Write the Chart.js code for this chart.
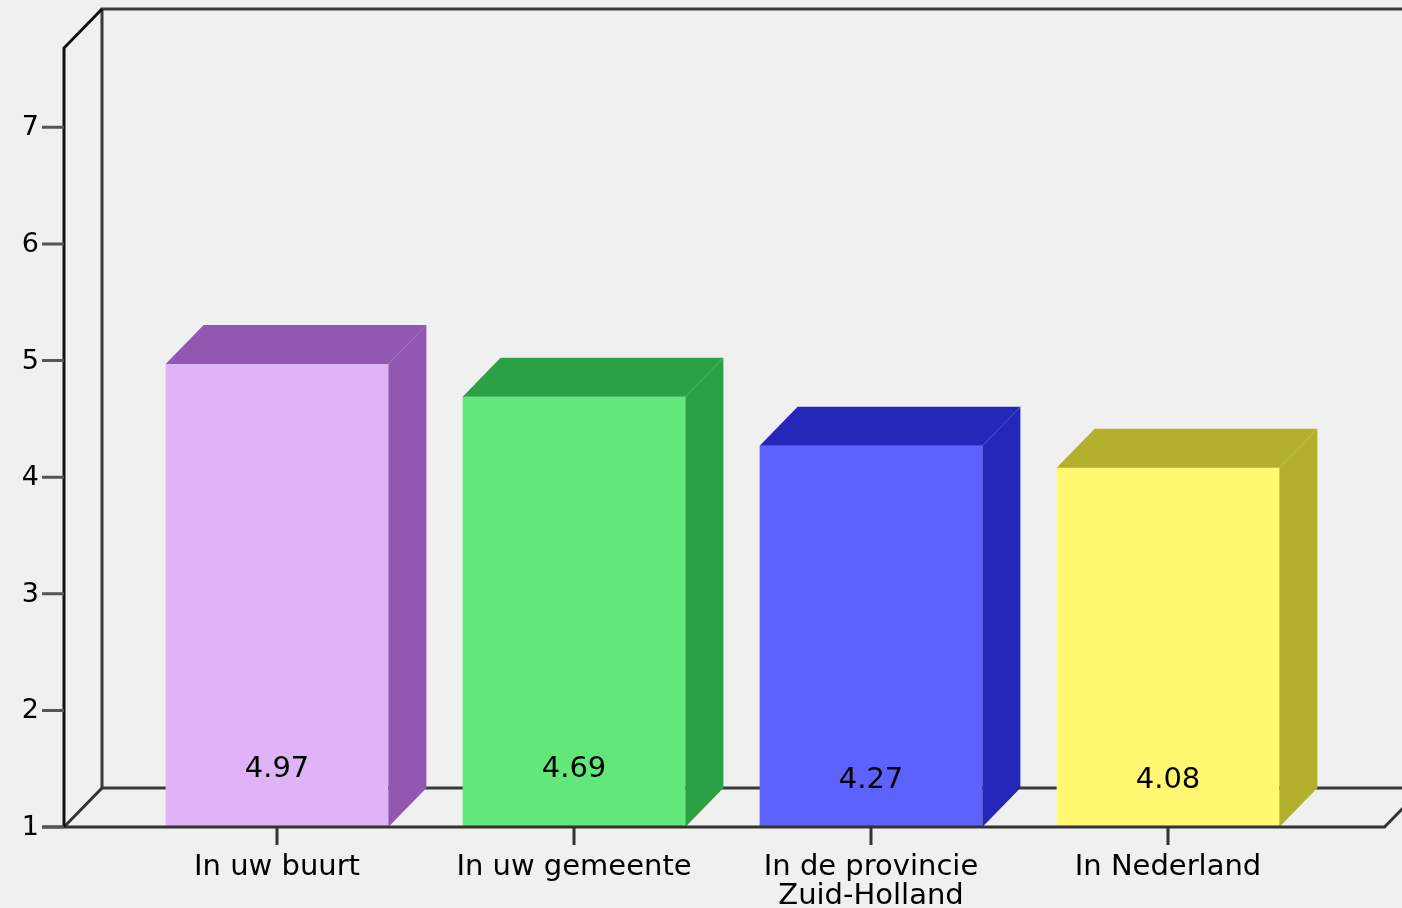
<!DOCTYPE html>
<html>
<head>
<meta charset="utf-8">
<script src="https://cdn.jsdelivr.net/npm/chart.js@4/dist/chart.umd.min.js"></script>
<style>
  body { margin: 0; background: #f0f0f0; }
  #wrap { width: 1402px; height: 908px; }
</style>
</head>
<body>
<div id="wrap"><canvas id="grafiek" width="1402" height="908"></canvas></div>
<script>
// ---- data ----
const categorieen = ["In uw buurt", "In uw gemeente", ["In de provincie", "Zuid-Holland"], "In Nederland"];
const waarden = [4.97, 4.69, 4.27, 4.08];
const yTicks = [1, 2, 3, 4, 5, 6, 7];

// front / dark (side + top) colours per bar
const kleurVoor = ["#deb4f6", "#62e87a", "#5d62ff", "#fff870"];
const kleurZij = ["#9157b1", "#2ba044", "#2426ba", "#b4b02d"];

const DX = 38, DY = -39; // 3d depth
const FONT = "'DejaVu Sans', sans-serif";

// frame, 3d faces, ticks and labels
const kader3d = {
  id: "kader3d",
  beforeDatasetsDraw(chart) {
    const { ctx, chartArea: a } = chart;
    const yb = chart.scales.y.getPixelForValue(1);
    const x0 = 64; // front axis x
    ctx.save();
    ctx.strokeStyle = "#3a3a3a";
    ctx.lineWidth = 3;
    ctx.beginPath();
    // back vertical + top line
    ctx.moveTo(x0 + DX, yb + DY);
    ctx.lineTo(x0 + DX, a.top + DY);
    ctx.lineTo(1402, a.top + DY);
    // back floor line
    ctx.moveTo(x0 + DX, yb + DY);
    ctx.lineTo(1402, yb + DY);
    ctx.stroke();
    ctx.restore();
  },
  afterDatasetsDraw(chart) {
    const { ctx, chartArea: a } = chart;
    const y = chart.scales.y;
    const x = chart.scales.x;
    const yb = y.getPixelForValue(1);
    const x0 = 64;
    const rechts = a.right + 68;
    const meta = chart.getDatasetMeta(0);

    // 3d faces
    meta.data.forEach((bar, i) => {
      const l = bar.x - bar.width / 2, r = bar.x + bar.width / 2, t = bar.y, b = yb;
      ctx.fillStyle = kleurZij[i];
      ctx.beginPath();
      ctx.moveTo(l, t);
      ctx.lineTo(r, t);
      ctx.lineTo(r + DX, t + DY);
      ctx.lineTo(l + DX, t + DY);
      ctx.closePath();
      ctx.fill();
      ctx.beginPath();
      ctx.moveTo(r, t);
      ctx.lineTo(r + DX, t + DY);
      ctx.lineTo(r + DX, b + DY);
      ctx.lineTo(r, b);
      ctx.closePath();
      ctx.fill();
    });

    ctx.save();
    ctx.strokeStyle = "#333";
    ctx.lineWidth = 3;
    ctx.beginPath();
    // front floor line + diagonals
    ctx.moveTo(x0 - 22, yb);
    ctx.lineTo(rechts, yb);
    ctx.lineTo(rechts + DX, yb + DY);
    ctx.moveTo(x0, yb);
    ctx.lineTo(x0 + DX, yb + DY);
    ctx.stroke();

    // front axis
    ctx.strokeStyle = "#111";
    ctx.beginPath();
    ctx.moveTo(x0, yb);
    ctx.lineTo(x0, a.top);
    ctx.lineTo(x0 + DX, a.top + DY);
    ctx.stroke();

    // y tick marks + labels
    ctx.strokeStyle = "#555";
    ctx.fillStyle = "#000";
    ctx.font = "27px " + FONT;
    ctx.textAlign = "right";
    ctx.textBaseline = "middle";
    ctx.beginPath();
    yTicks.forEach(v => {
      const p = y.getPixelForValue(v);
      ctx.moveTo(x0 - 22, p);
      ctx.lineTo(x0, p);
      ctx.fillText(String(v), 39, p + 1);
    });
    ctx.stroke();

    // x tick marks + labels
    ctx.strokeStyle = "#333";
    ctx.font = "29px " + FONT;
    ctx.textAlign = "center";
    ctx.beginPath();
    categorieen.forEach((c, i) => {
      const p = x.getPixelForValue(i);
      ctx.moveTo(p, yb);
      ctx.lineTo(p, yb + 18);
      const regels = Array.isArray(c) ? c : [c];
      regels.forEach((t, k) => ctx.fillText(t, p, yb + 40 + k * 29));
    });
    ctx.stroke();

    // value labels
    ctx.font = "29px " + FONT;
    meta.data.forEach((bar, i) => {
      const off = i < 2 ? 58 : 47;
      ctx.fillText(waarden[i].toFixed(2), bar.x, yb - off);
    });
    ctx.restore();
  }
};

new Chart(document.getElementById("grafiek"), {
  type: "bar",
  data: {
    labels: categorieen,
    datasets: [{
      data: waarden,
      backgroundColor: kleurVoor,
      borderWidth: 0,
      categoryPercentage: 1,
      barPercentage: 0.75
    }]
  },
  options: {
    responsive: false,
    animation: false,
    layout: { padding: { top: 48, right: 85.5, left: 128.5, bottom: 81 } },
    plugins: { legend: { display: false }, tooltip: { enabled: false } },
    scales: {
      x: { display: false },
      y: { display: false, min: 1, max: 7.68 }
    }
  },
  plugins: [kader3d]
});
</script>
</body>
</html>
